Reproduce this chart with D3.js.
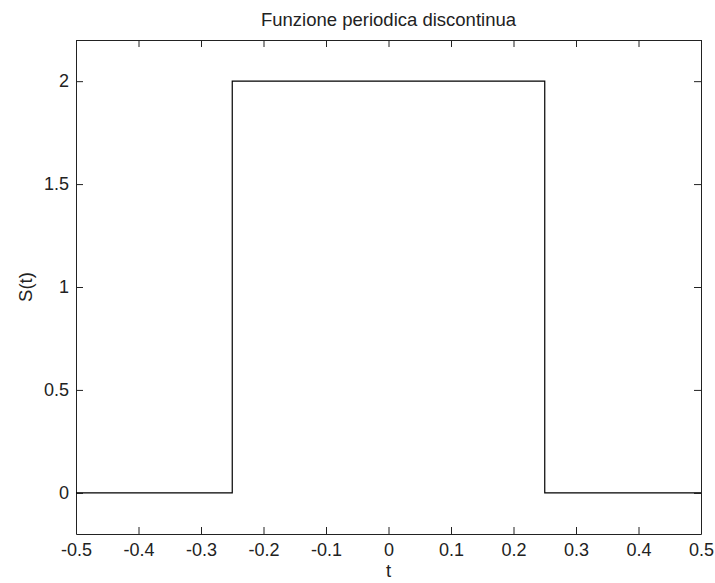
<!DOCTYPE html>
<html>
<head>
<meta charset="utf-8">
<script src="https://cdn.jsdelivr.net/npm/d3@7"></script>
<style>
body { margin: 0; background: #fff; }
text { font-family: "Liberation Sans", Arial, sans-serif; }
</style>
</head>
<body>
<script>
// step points of the signal
var tValues = [-0.5, -0.25, -0.25, 0.25, 0.25, 0.5];
var sValues = [0, 0, 2, 2, 0, 0];
var xTicks = [-0.5, -0.4, -0.3, -0.2, -0.1, 0, 0.1, 0.2, 0.3, 0.4, 0.5];
var yTicks = [0, 0.5, 1, 1.5, 2];

var width = 715, height = 583;
var mLeft = 76, mRight = 701, mTop = 40, mBottom = 534;

var svg = d3.select("body").append("svg")
.attr("width", width)
.attr("height", height);

var x = d3.scaleLinear().domain([-0.5, 0.5]).range([mLeft, mRight]);
var y = d3.scaleLinear().domain([-0.2, 2.2]).range([mBottom, mTop]);

var tickLen = 7;
var fmt = function(d) { return String(Math.round(d * 10) / 10); };

// bottom axis
svg.append("g")
.attr("transform", "translate(0," + mBottom + ")")
.call(d3.axisBottom(x).tickValues(xTicks).tickSizeInner(-tickLen).tickSizeOuter(0).tickPadding(9).tickFormat(fmt));
// top axis
svg.append("g")
.attr("transform", "translate(0," + mTop + ")")
.call(d3.axisTop(x).tickValues(xTicks).tickSizeInner(-tickLen).tickSizeOuter(0).tickFormat(""));
// left axis
svg.append("g")
.attr("transform", "translate(" + mLeft + ",0)")
.call(d3.axisLeft(y).tickValues(yTicks).tickSizeInner(-tickLen).tickSizeOuter(0).tickPadding(7).tickFormat(fmt));
// right axis
svg.append("g")
.attr("transform", "translate(" + mRight + ",0)")
.call(d3.axisRight(y).tickValues(yTicks).tickSizeInner(-tickLen).tickSizeOuter(0).tickFormat(""));

svg.selectAll(".domain").attr("stroke", "#222");
svg.selectAll(".tick line").attr("stroke", "#222");
svg.selectAll(".tick text").attr("font-size", 18).attr("fill", "#222")
.attr("font-family", "Liberation Sans, Arial, sans-serif");

// signal
var line = d3.line()
.x(function(d, i) { return x(tValues[i]); })
.y(function(d, i) { return y(sValues[i]); });

svg.append("path")
.datum(tValues)
.attr("d", line)
.attr("fill", "none")
.attr("stroke", "#000")
.attr("stroke-width", 1.2);

// labels
svg.append("text")
.attr("x", (mLeft + mRight) / 2)
.attr("y", 26)
.attr("text-anchor", "middle")
.attr("font-size", 18.5)
.attr("fill", "#222")
.text("Funzione periodica discontinua");

svg.append("text")
.attr("x", (mLeft + mRight) / 2)
.attr("y", 577)
.attr("text-anchor", "middle")
.attr("font-size", 18.5)
.attr("fill", "#222")
.text("t");

svg.append("text")
.attr("transform", "translate(32," + (mTop + mBottom) / 2 + ") rotate(-90)")
.attr("text-anchor", "middle")
.attr("font-size", 18.5)
.attr("fill", "#222")
.text("S(t)");
</script>
</body>
</html>
